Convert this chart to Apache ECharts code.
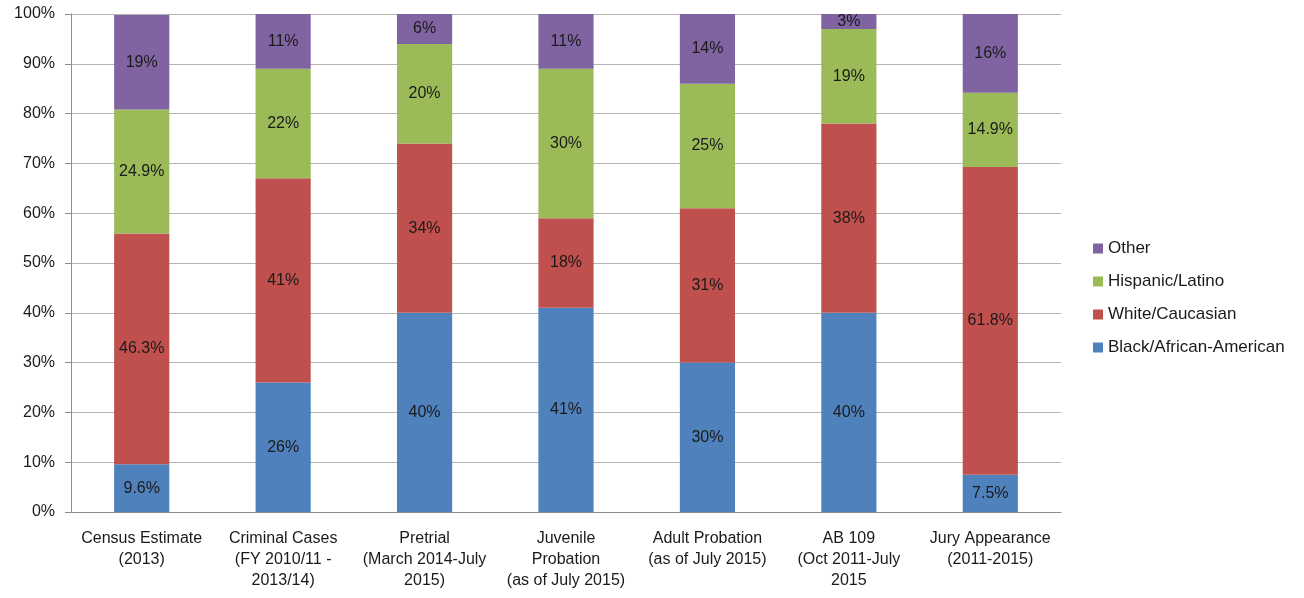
<!DOCTYPE html>
<html>
<head>
<meta charset="utf-8">
<script src="https://cdn.jsdelivr.net/npm/echarts@6/dist/echarts.min.js"></script>
<style>html,body{margin:0;padding:0;background:#fff;}#c{width:1304px;height:598px;}</style>
</head>
<body>
<div id="c"></div>
<script>
var categories = ["Census Estimate\n(2013)", "Criminal Cases\n(FY 2010/11 -\n2013/14)", "Pretrial\n(March 2014-July\n2015)", "Juvenile\nProbation\n(as of July 2015)", "Adult Probation\n(as of July 2015)", "AB 109\n(Oct 2011-July\n2015", "Jury Appearance\n(2011-2015)"];
var black = [9.6, 26, 40, 41, 30, 40, 7.5];
var white = [46.3, 41, 34, 18, 31, 38, 61.8];
var hispanic = [24.9, 22, 20, 30, 25, 19, 14.9];
var other = [19, 11, 6, 11, 14, 3, 16];
var yTicks = [0, 10, 20, 30, 40, 50, 60, 70, 80, 90, 100];

var FONT = "Liberation Sans";
function mk(name, data, color) {
  return {
    name: name, type: 'bar', stack: 'total', data: data, barWidth: '39%',
    itemStyle: { color: color },
    label: { show: true, position: 'inside', formatter: function(p){ return p.value + '%'; },
             color: '#1a1a1a', fontSize: 16, fontFamily: FONT }
  };
}
var chart = echarts.init(document.getElementById('c'));
chart.setOption({
  animation: false,
  grid: { left: 71, right: 243, top: 14, bottom: 86 },
  legend: {
    orient: 'vertical', left: 1088, top: 235, itemWidth: 10, itemHeight: 10, itemGap: 16,
    icon: 'rect',
    textStyle: { fontSize: 17, fontFamily: FONT, color: '#1a1a1a' },
    data: ['Other', 'Hispanic/Latino', 'White/Caucasian', 'Black/African-American']
  },
  xAxis: {
    type: 'category', data: categories,
    axisLine: { lineStyle: { color: '#8c8c8c' } },
    axisTick: { length: 6, lineStyle: { color: '#8c8c8c' } },
    axisLabel: { interval: 0, fontSize: 16, fontFamily: FONT, color: '#1a1a1a', lineHeight: 21, margin: 16 }
  },
  yAxis: {
    type: 'value', min: yTicks[0], max: yTicks[yTicks.length - 1], interval: 10,
    axisLine: { show: true, lineStyle: { color: '#8c8c8c' } },
    axisTick: { show: true, length: 6, lineStyle: { color: '#8c8c8c' } },
    splitLine: { lineStyle: { color: '#b4b4b4' } },
    axisLabel: { formatter: '{value}%', fontSize: 16, fontFamily: FONT, color: '#1a1a1a', margin: 16 }
  },
  series: [
    mk('Black/African-American', black, '#4F81BD'),
    mk('White/Caucasian', white, '#C0504D'),
    mk('Hispanic/Latino', hispanic, '#9BBB59'),
    mk('Other', other, '#8064A2')
  ]
});
</script>
</body>
</html>
